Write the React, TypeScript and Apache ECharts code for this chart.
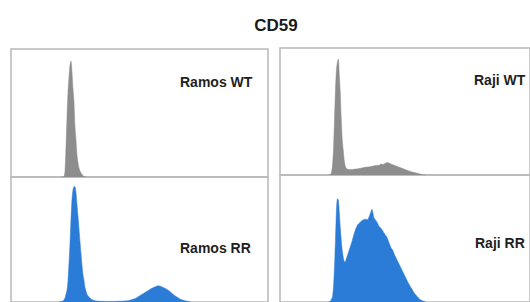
import React, { useEffect, useRef } from "react";
import * as echarts from "echarts";

// Channel (fluorescence bin) vs. count
const ramosWT: [number, number][] = [
  [50, 0], [53, 0.5], [54, 6], [55, 30], [56, 60], [57, 85], [58, 100], [59, 112], [60, 116],
  [61, 105], [62, 88], [63, 75], [64, 50], [65, 37], [66, 22], [67, 14], [68, 9], [69, 6],
  [70, 4], [71, 2.5], [72, 1.5], [73, 0.5], [75, 0],
];

const ramosRR: [number, number][] = [
  [48, 0], [52, 1], [54, 4], [55, 8], [56, 12], [57, 22], [58, 40], [59, 60], [60, 85], [61, 105],
  [62, 115], [63, 118], [64, 118], [65, 112], [66, 100], [67, 88], [68, 75], [69, 62], [70, 50],
  [71, 38], [72, 28], [73, 22], [74, 15], [76, 8], [78, 5], [80, 3], [83, 1.5], [88, 0.8],
  [100, 0.6], [110, 0.8], [118, 1.5], [124, 3.5], [128, 6], [132, 8.5], [136, 11], [140, 13.5],
  [144, 15.5], [147, 16.7], [150, 16], [154, 14], [158, 11.5], [162, 8], [166, 5], [170, 2.5],
  [175, 1], [180, 0],
];

const rajiWT: [number, number][] = [
  [50, 0], [52, 0.5], [53, 3], [54, 10], [55, 25], [56, 55], [57, 85], [58, 105], [59, 113],
  [60, 116], [61, 100], [62, 82], [63, 55], [64, 35], [65, 25], [66, 15], [67, 9], [68, 7],
  [70, 5.5], [74, 5.5], [78, 6], [82, 6.5], [86, 7.5], [90, 8], [94, 8.5], [98, 9.5],
  [102, 9.8], [104, 11], [106, 10.5], [108, 11.5], [110, 12.5], [112, 12], [114, 11], [118, 9.5],
  [122, 8], [126, 6.5], [130, 5], [134, 3.5], [138, 2.5], [142, 1.5], [146, 0.5], [150, 0],
];

const rajiRR: [number, number][] = [
  [50, 0], [52, 1], [53, 3], [54, 5], [55, 15], [56, 35], [57, 62], [58, 92], [59, 104],
  [60, 103], [61, 90], [62, 75], [63, 62], [64, 52], [65, 45], [66, 41], [67, 40], [68, 43],
  [70, 49], [72, 55], [74, 61], [76, 68], [78, 74], [80, 78], [82, 80], [84, 82], [86, 83],
  [88, 83.5], [90, 83], [92, 87], [93.5, 91], [94.5, 93.5], [95.5, 90], [96.5, 85], [98, 83],
  [100, 80], [102, 76], [104, 74], [106, 71], [108, 68], [110, 65], [112, 60], [114, 55],
  [116, 52], [118, 47], [120, 43], [123, 37], [126, 31], [129, 25], [132, 19], [135, 14],
  [138, 9], [141, 5.5], [144, 2.5], [147, 1], [150, 0],
];

const titleText = "CD59";
const panelLabels = ["Ramos WT", "Ramos RR", "Raji WT", "Raji RR"];

const GRAY = "#8d8d8d";
const BLUE = "#2b7cd6";
const FONT = "'Liberation Sans', Arial, Helvetica, sans-serif";

export default function App() {
  const ref = useRef<HTMLDivElement>(null);

  useEffect(() => {
    if (!ref.current) return;
    const chart = echarts.init(ref.current, undefined, { renderer: "svg" });

    const gridBase = {
      show: true,
      borderColor: "#b8b8b8",
      borderWidth: 1.5,
      backgroundColor: "transparent",
    };
    const grids = [
      { ...gridBase, left: 11, top: 49, width: 257, height: 128 },
      { ...gridBase, left: 11, top: 177, width: 257, height: 128 },
      { ...gridBase, left: 280, top: 48, width: 257, height: 127 },
      { ...gridBase, left: 280, top: 175, width: 257, height: 128 },
    ];
    const yMax = [128, 128, 127, 128];

    const hidden = {
      axisLabel: { show: false },
      axisTick: { show: false },
      axisLine: { show: false },
      splitLine: { show: false },
    };

    const xAxes = grids.map((_, i) => ({ type: "value", gridIndex: i, min: 0, max: 257, ...hidden }));
    const yAxes = grids.map((_, i) => ({ type: "value", gridIndex: i, min: 0, max: yMax[i], ...hidden }));

    const datasets = [ramosWT, ramosRR, rajiWT, rajiRR];
    const colors = [GRAY, BLUE, GRAY, BLUE];

    const series = datasets.map((d, i) => ({
      type: "line",
      name: panelLabels[i],
      xAxisIndex: i,
      yAxisIndex: i,
      data: d,
      symbol: "none",
      smooth: 0.2,
      lineStyle: { color: colors[i], width: 0.5 },
      areaStyle: { color: colors[i], opacity: 1 },
      z: 1,
    }));

    const labelPos = [
      { x: 180, y: 82 },
      { x: 180, y: 247.5 },
      { x: 474, y: 79.5 },
      { x: 475, y: 242.5 },
    ];

    chart.setOption({
      animation: false,
      backgroundColor: "#ffffff",
      title: {
        text: titleText,
        left: 271,
        top: 12,
        textAlign: "center",
        textStyle: { fontFamily: FONT, fontSize: 17, fontWeight: "bold", color: "#1a1a1a" },
      },
      grid: grids,
      xAxis: xAxes,
      yAxis: yAxes,
      series,
      graphic: panelLabels.map((t, i) => ({
        type: "text",
        x: labelPos[i].x,
        y: labelPos[i].y,
        z: 10,
        style: {
          text: t,
          fontFamily: FONT,
          fontSize: 14,
          fontWeight: "bold",
          fill: "#1f1f1f",
          textVerticalAlign: "middle",
        },
      })),
    });

    return () => chart.dispose();
  }, []);

  return (
    <div
      ref={ref}
      style={{ position: "fixed", left: 0, top: 0, width: 530, height: 302 }}
    />
  );
}
